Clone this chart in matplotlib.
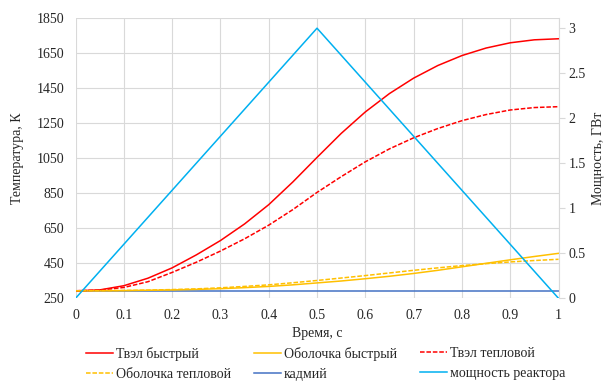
import numpy as np
import matplotlib
matplotlib.use("Agg")
import matplotlib.pyplot as plt
from matplotlib.lines import Line2D

plt.rcParams['font.family'] = ['Liberation Serif', 'DejaVu Serif']

# time grid, s
t = [0.00, 0.05, 0.10, 0.15, 0.20, 0.25, 0.30, 0.35, 0.40, 0.45, 0.50,
     0.55, 0.60, 0.65, 0.70, 0.75, 0.80, 0.85, 0.90, 0.95, 1.00]

# temperatures, K
fuel_fast = [293, 298, 322, 365, 424, 498, 580, 675, 785, 915, 1055,
             1192, 1315, 1420, 1508, 1580, 1637, 1680, 1710, 1727, 1733]
clad_fast = [293, 293, 294, 296, 298, 301, 305, 311, 318, 327, 338,
             349, 362, 376, 392, 410, 430, 450, 470, 489, 507]
fuel_thermal = [293, 297, 312, 345, 398, 456, 520, 590, 668, 757, 855,
                945, 1030, 1104, 1167, 1220, 1265, 1300, 1326, 1340, 1345]
clad_thermal = [293, 294, 295, 297, 300, 304, 310, 318, 327, 339, 352,
                366, 380, 395, 410, 424, 437, 448, 458, 466, 473]
cadmium = [293] * len(t)

# reactor power, GW
power_t = [0.0, 0.5, 1.0]
power = [0.0, 3.0, 0.0]

x_ticks = [0, 0.1, 0.2, 0.3, 0.4, 0.5, 0.6, 0.7, 0.8, 0.9, 1]
x_ticklabels = ['0', '0.1', '0.2', '0.3', '0.4', '0.5', '0.6', '0.7', '0.8', '0.9', '1']
t_ticks = [250, 450, 650, 850, 1050, 1250, 1450, 1650, 1850]
p_ticks = [0, 0.5, 1, 1.5, 2, 2.5, 3]
p_ticklabels = ['0', '0.5', '1', '1.5', '2', '2.5', '3']

RED = '#FF0000'
GOLD = '#FFC000'
CD_BLUE = '#4472C4'
SKY = '#00B0F0'
GRID = '#D9D9D9'
TXT = '#262626'

fig = plt.figure(figsize=(6.10, 3.81), dpi=100)
ax = fig.add_axes([0.1238, 0.217, 0.7918, 0.735])
ax2 = ax.twinx()

lw = 1.1
dash = (0, (3.0, 1.2))
ax.plot(t, fuel_fast, color=RED, lw=lw, label='Твэл быстрый', zorder=4)
ax.plot(t, clad_fast, color=GOLD, lw=lw, label='Оболочка быстрый', zorder=4)
ax.plot(t, fuel_thermal, color=RED, lw=lw, ls=dash, label='Твэл тепловой', zorder=4)
ax.plot(t, clad_thermal, color=GOLD, lw=lw, ls=dash, label='Оболочка тепловой', zorder=4)
ax.plot(t, cadmium, color=CD_BLUE, lw=lw, label='кадмий', zorder=3)
ax2.plot(power_t, power, color=SKY, lw=lw, label='мощность реактора', zorder=5)

ax.set_xlim(0, 1)
ax.set_ylim(250, 1850)
ax2.set_ylim(0, 3.11)
ax.set_xticks(x_ticks)
ax.set_xticklabels(x_ticklabels)
ax.set_yticks(t_ticks)
ax2.set_yticks(p_ticks)
ax2.set_yticklabels(p_ticklabels)

ax.grid(True, color=GRID, lw=0.8)
ax.set_axisbelow(True)
for sp in ax.spines.values():
    sp.set_visible(False)
for sp in ax2.spines.values():
    sp.set_visible(False)
ax2.spines['right'].set_visible(True)
ax2.spines['right'].set_color(GRID)
ax2.spines['right'].set_linewidth(0.8)

fs = 10
ax.tick_params(axis='both', length=0, labelsize=fs, labelcolor=TXT, pad=8)
ax.tick_params(axis='x', pad=8)
ax2.tick_params(axis='y', length=4, color=GRID, labelsize=fs, labelcolor=TXT, pad=3)

ax.set_xlabel('Время, с', fontsize=fs, color=TXT, labelpad=3)
ax.set_ylabel('Температура, К', fontsize=fs, color=TXT, labelpad=9)
ax2.set_ylabel('Мощность, ГВт', fontsize=fs, color=TXT, labelpad=5)

# legend laid out in three equal columns below the plot
def handle(color, ls='-'):
    return Line2D([], [], color=color, lw=lw, ls=ls)

columns = [
    ([handle(RED), handle(GOLD, dash)], ['Твэл быстрый', 'Оболочка тепловой'], 84),
    ([handle(GOLD), handle(CD_BLUE)], ['Оболочка быстрый', 'кадмий'], 252),
    ([handle(RED, dash), handle(SKY)], ['Твэл тепловой', 'мощность реактора'], 418),
]
for handles, labels, xpix in columns:
    fig.legend(handles, labels, loc='upper left',
               bbox_to_anchor=(xpix / 610 - 0.012, 1 - 337 / 381),
               frameon=False, fontsize=fs, handlelength=1.9,
               handletextpad=0.2, labelspacing=0.5, borderpad=0.2,
               labelcolor=TXT)

fig.savefig('out.png', dpi=100)
